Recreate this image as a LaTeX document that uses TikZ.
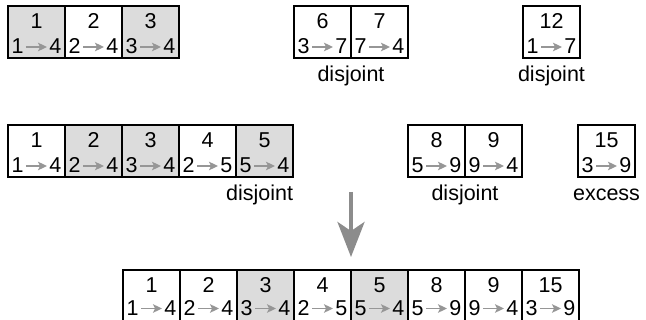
\documentclass[tikz,border=0pt]{standalone}
\usepackage{fontspec}
\setmainfont{Liberation Sans}
\usetikzlibrary{arrows.meta,calc}
\definecolor{cellgray}{RGB}{220,220,220}
\definecolor{arrgray}{RGB}{150,150,150}
\definecolor{biggray}{RGB}{140,140,140}
\newcommand{\ga}{\hspace{1.5pt}\tikz[baseline=0pt]\draw[arrgray,line width=1.6pt,-{Stealth[length=9pt,width=8.5pt,inset=2pt]}] (0pt,7pt)--(21pt,7pt);\hspace{1.5pt}}
\newcommand{\mycell}[8]{%
  \node[cellbox, fill=#7, anchor=north west] (#1) at (#2,#3) {};
  \node[txt, anchor=base] (#1-t) at ($(#1.north)+(0,23)$) {#4};
  \node[txt, anchor=base] (#1-b) at ($(#1.north)+(0,#8)$) {#5\ga#6};
}
\begin{document}
\begin{tikzpicture}[x=1pt,y=-1pt,
  cellbox/.style={draw=black, line width=1.3pt, rectangle, minimum width=57pt, minimum height=52pt, inner sep=0pt, outer sep=0pt},
  txt/.style={inner sep=0pt, outer sep=0pt, font=\fontsize{21.5}{21.5}\selectfont},
  lbl/.style={inner sep=0pt, outer sep=0pt, font=\fontsize{21.5}{21.5}\selectfont}]
\useasboundingbox (0,0) rectangle (646,320);
% row 1
\mycell{a1}{8}{6}{1}{1}{4}{cellgray}{48}
\mycell{a2}{65}{6}{2}{2}{4}{white}{48}
\mycell{a3}{122}{6}{3}{3}{4}{cellgray}{48}
\mycell{a6}{294}{6}{6}{3}{7}{white}{48}
\mycell{a7}{351}{6}{7}{7}{4}{white}{48}
\mycell{a12}{523}{6}{12}{1}{7}{white}{48}
\node[lbl, anchor=base] (la67) at ($(a6.south east)+(0,24)$) {disjoint};
\node[lbl, anchor=base] (la12) at ($(a12.south)+(0,24)$) {disjoint};
% row 2
\mycell{b1}{8}{125}{1}{1}{4}{white}{48}
\mycell{b2}{65}{125}{2}{2}{4}{cellgray}{48}
\mycell{b3}{122}{125}{3}{3}{4}{cellgray}{48}
\mycell{b4}{179}{125}{4}{2}{5}{white}{48}
\mycell{b5}{236}{125}{5}{5}{4}{cellgray}{48}
\mycell{b8}{408}{125}{8}{5}{9}{white}{48}
\mycell{b9}{465}{125}{9}{9}{4}{white}{48}
\mycell{b15}{578}{125}{15}{3}{9}{white}{48}
\node[lbl, anchor=base east] (lb5) at ($(b5.south east)+(0,24)$) {disjoint};
\node[lbl, anchor=base] (lb89) at ($(b8.south east)+(0,24)$) {disjoint};
\node[lbl, anchor=base] (lb15) at ($(b15.south)+(0,24)$) {excess};
% row 3
\mycell{c1}{123}{270}{1}{1}{4}{white}{45.5}
\mycell{c2}{180}{270}{2}{2}{4}{white}{45.5}
\mycell{c3}{237}{270}{3}{3}{4}{cellgray}{45.5}
\mycell{c4}{294}{270}{4}{2}{5}{white}{45.5}
\mycell{c5}{351}{270}{5}{5}{4}{cellgray}{45.5}
\mycell{c8}{408}{270}{8}{5}{9}{white}{45.5}
\mycell{c9}{465}{270}{9}{9}{4}{white}{45.5}
\mycell{c15}{522}{270}{15}{3}{9}{white}{45.5}
% big arrow
\coordinate (atop) at ($(c5.north west)+(0,-78)$);
\coordinate (atip) at ($(c5.north west)+(0,-13)$);
\draw[biggray, line width=4pt, -{Stealth[length=35pt,width=27pt,inset=9pt]}] (atop) -- (atip);
\end{tikzpicture}
\end{document}
